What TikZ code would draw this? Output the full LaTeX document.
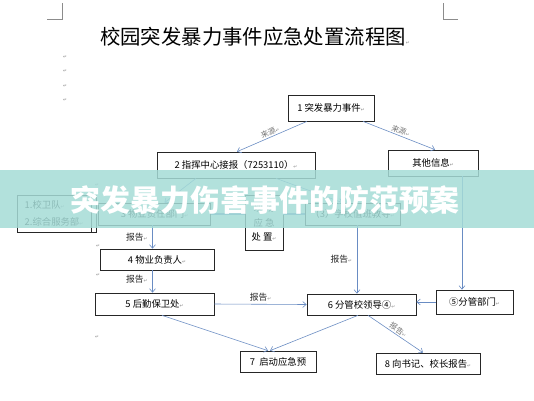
\documentclass[tikz,border=0pt]{standalone}
\usepackage{fontspec}
\setmainfont{Noto Sans CJK SC}
\newfontfamily\symfont{DejaVu Sans}
\usetikzlibrary{arrows.meta, calc}
\definecolor{lineblue}{RGB}{105,140,195}
\definecolor{bandteal}{RGB}{165,220,215}
\newcommand{\retmark}{{\symfont\fontsize{4}{4}\selectfont\color{black!45}↵}}

\begin{document}
\begin{tikzpicture}[x=0.3mm, y=-0.3mm, font=\fontsize{8}{10}\selectfont,
    box/.style={draw=black!85, line width=0.6pt, inner sep=1pt, align=center},
    arrow/.style={-{Straight Barb[length=3pt,width=5pt]}, draw=lineblue, line width=0.5pt},
    lbl/.style={font=\fontsize{7.5}{9}\selectfont, text=black!85, inner sep=1pt},
    src/.style={font=\fontsize{6.5}{8}\selectfont, text=black!55, inner sep=1pt},
    ret/.style={inner sep=0pt}
]
    \useasboundingbox (0,0) rectangle (534,400);
    \fill[white] (0,0) rectangle (534,400);
    % page corners
    \draw[black!45, line width=0.4pt] (47,19) -- (62,19) -- (62,3);
    \draw[black!45, line width=0.4pt] (458,19) -- (443,19) -- (443,3);
    \node (title) at (255,37) {\fontsize{17.4}{20}\selectfont 校园突发暴力事件应急处置流程图\retmark};
    \node[ret] (pm1) at (65,57) {\retmark};
    \node[ret] (pm2) at (65,71) {\retmark};
    \node[ret] (pm3) at (65,86) {\retmark};
    \node[ret] (pm4) at (65,100) {\retmark};
    \node[ret] (pm5) at (97,185) {\retmark};
    \node[ret] (pm6) at (98,246) {\retmark};
    \node[ret] (pm7) at (98,275) {\retmark};
    \node[ret] (pm8) at (97,337) {\retmark};

    % boxes
    \node[box, minimum width=25.8mm, minimum height=7.8mm] (n1) at (331,108) {1 突发暴力事件\retmark};
    \node[box, minimum width=47.4mm, minimum height=7.8mm] (n2) at (236,165) {2 指挥中心接报（7253110）\retmark};
    \node[box, minimum width=27mm, minimum height=7.8mm] (other) at (433,163) {其他信息\retmark};
    \node[box, minimum width=22.2mm, minimum height=11.1mm, align=left, font=\fontsize{8}{14}\selectfont] (team) at (54,213.5) {1.校卫队\retmark\\2.综合服务部\retmark};
    \draw[black!85, line width=0.6pt] (team.south east) -- ++(5,0) -- ++(0,-37);
    \node[box, minimum width=33.6mm, minimum height=6.6mm] (n3) at (154.5,214) {3 物业责任部门\retmark};
    \node[box, minimum width=11.4mm, minimum height=16.5mm, font=\fontsize{8}{12}\selectfont] (site) at (264,222.5) {现 场\\应 急\\处 置\retmark};
    \node[box, minimum width=28.5mm, minimum height=6.6mm] (duty) at (352.5,214) {（3）学校值班教导\retmark};
    \node[box, minimum width=34.2mm, minimum height=6.3mm] (n4) at (157,259.5) {4 物业负责人\retmark};
    \node[box, minimum width=35.7mm, minimum height=6.6mm] (n5) at (154.5,304) {5 后勤保卫处\retmark};
    \node[box, minimum width=32.7mm, minimum height=6.3mm] (n6) at (361.5,304.5) {6 分管校领导④\retmark};
    \node[box, minimum width=23.1mm, minimum height=7.2mm] (sub) at (474.5,302) {⑤分管部门\retmark};
    \node[box, minimum width=22.8mm, minimum height=6.3mm] (n7) at (278,361.5) {7\ \ 启动应急预};
    \node[box, minimum width=31.2mm, minimum height=6.3mm] (n8) at (428,363.5) {8 向书记、校长报告\retmark};

    % connectors
    \draw[arrow] ($(n1.south)+(-24,0)$) -- node[src, sloped, above]{来源\retmark} ($(n2.north)+(1,0)$);
    \draw[arrow] ($(n1.south)+(32,0)$) -- node[src, sloped, above]{来源\retmark} ($(other.north)+(2,0)$);
    \draw[arrow] ($(n2.south)+(-40,0)$) -- ($(n3.north)+(10,0)$);
    \draw[arrow] ($(n2.south)+(40,0)$) -- ($(duty.north)+(-10,0)$);
    \draw[lineblue, line width=2pt] (n3.east) -- (site.west |- n3.east);
    \draw[lineblue, line width=2pt] (site.east |- duty.west) -- (duty.west);
    \draw[arrow] ($(n3.south)+(-2,0)$) -- node[lbl, left, xshift=-3pt]{报告\retmark} ($(n4.north)+(-4.5,0)$);
    \draw[arrow] ($(n4.south)+(-4.5,0)$) -- node[lbl, left, xshift=-3pt, yshift=2pt]{报告\retmark} ($(n5.north)+(-2,0)$);
    \draw[arrow] (n5.east) -- node[lbl, above, yshift=1pt]{报告\retmark} (n6.west);
    \draw[arrow] ($(duty.south)+(4.5,0)$) -- node[lbl, left, xshift=-3pt]{报告\retmark} ($(n6.north)+(-4.5,0)$);
    \draw[arrow] ($(other.south)+(29,0)$) -- ($(sub.north)+(-12.5,0)$);
    \draw[arrow] (sub.west) -- (sub.west -| n6.east);
    \draw[arrow] ($(n5.south)+(7.5,0)$) -- ($(n7.north)+(-10,0)$);
    \draw[arrow] ($(n6.south)+(-3.5,0)$) -- ($(n7.north)+(-8,0)$);
    \draw[arrow] ($(n6.south)+(6.5,0)$) -- node[src, sloped, above]{报告\retmark} ($(n8.north)+(-5,0)$);

    % banner
    \fill[bandteal, fill opacity=0.85] (0,170) rectangle (534,228);
    \node[text=white, font=\fontsize{25.5}{28}\selectfont\bfseries] (banner) at (265,200) {突发暴力伤害事件的防范预案};
\end{tikzpicture}
\end{document}
